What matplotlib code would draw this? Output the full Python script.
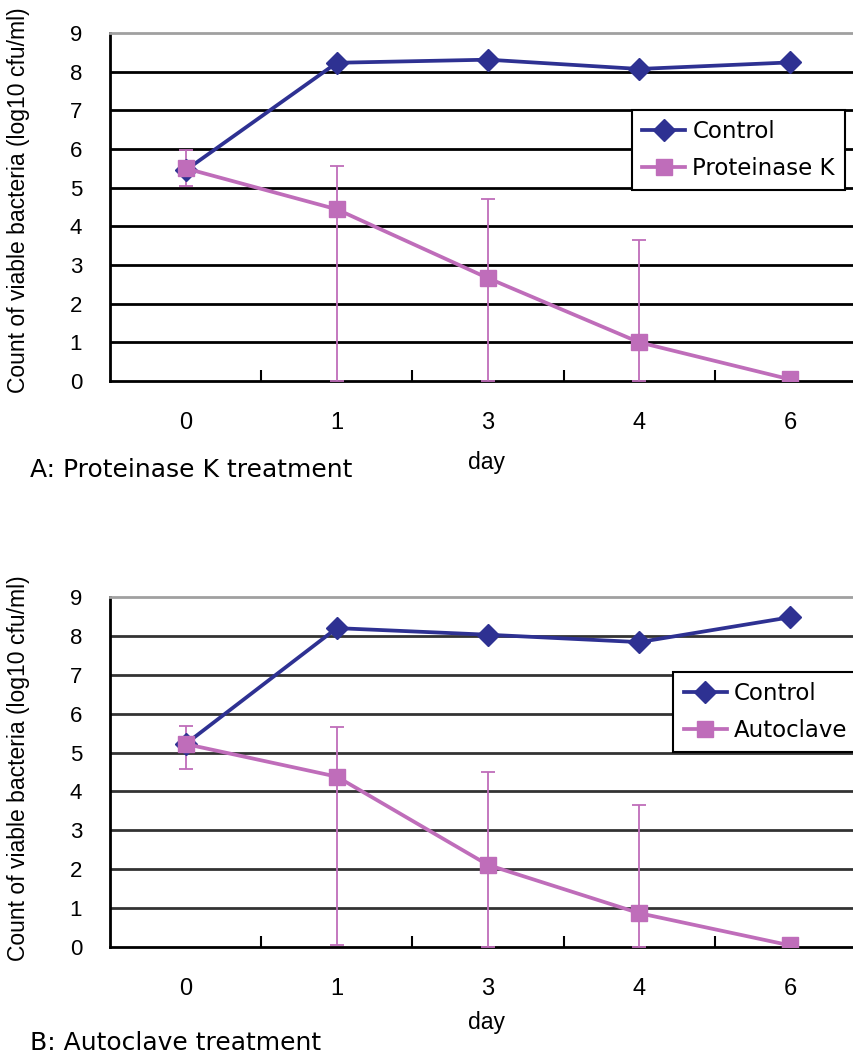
import numpy as np
import matplotlib
matplotlib.use("Agg")
import matplotlib.pyplot as plt

plt.rcParams['font.family'] = ['Liberation Sans', 'DejaVu Sans']

days = ["0", "1", "3", "4", "6"]

# panel A
ctrl_a = [5.45, 8.23, 8.31, 8.07, 8.24]
prot_a = [5.50, 4.44, 2.66, 1.00, 0.04]
prot_a_lo = [5.04, 0.0, 0.0, 0.0, 0.04]
prot_a_hi = [5.97, 5.56, 4.70, 3.64, 0.04]

# panel B
ctrl_b = [5.22, 8.20, 8.03, 7.84, 8.48]
auto_b = [5.22, 4.38, 2.11, 0.87, 0.04]
auto_b_lo = [4.58, 0.04, 0.0, 0.0, 0.04]
auto_b_hi = [5.68, 5.66, 4.50, 3.65, 0.04]

blue = "#2E3192"
pink = "#BF6DBA"
W, H = 854, 1057

fig = plt.figure(figsize=(W / 100, H / 100), dpi=100)


def panel(top, bot, ctrl, trt, lo, hi, trt_name, grid_col, leg_xy, caption, cap_y, day_y, ylab_y):
    ax = fig.add_axes([110 / W, 1 - bot / H, (866 - 110) / W, (bot - top) / H])
    x = np.arange(len(days))
    trt = np.array(trt)
    err = [trt - np.array(lo), np.array(hi) - trt]
    ax.errorbar(x, trt, yerr=err, fmt='none', ecolor=pink, elinewidth=1.3,
                capsize=5, capthick=1.3, zorder=3)
    ax.plot(x, ctrl, color=blue, lw=2.7, marker='D', ms=11.5, label="Control", zorder=4)
    ax.plot(x, trt, color=pink, lw=2.7, marker='s', ms=11, label=trt_name, zorder=4)
    ax.set_xlim(-0.5, 4.5)
    ax.set_ylim(0, 9)
    ax.set_yticks(range(10))
    ax.set_xticks(x)
    ax.set_xticklabels(days)
    ax.set_xticks(x[:-1] + 0.5, minor=True)
    ax.tick_params(axis='x', which='major', length=0, pad=22, labelsize=17)
    ax.tick_params(axis='x', which='minor', direction='in', length=8, width=1.5)
    ax.tick_params(axis='y', length=0, pad=20, labelsize=16)
    for yv in range(1, 9):
        ax.axhline(yv, color=grid_col, lw=2, zorder=1)
    ax.spines['right'].set_visible(False)
    ax.spines['top'].set_color('#a0a0a0')
    ax.spines['top'].set_linewidth(2)
    ax.spines['left'].set_linewidth(2)
    ax.spines['bottom'].set_linewidth(2)
    ax.set_ylabel("Count of viable bacteria (log10 cfu/ml)", fontsize=16.5)
    ax.yaxis.set_label_coords(-0.106, ylab_y)
    leg = ax.legend(loc='upper left', bbox_to_anchor=leg_xy, borderaxespad=0,
                    prop={'family': 'DejaVu Sans', 'size': 16.5},
                    fancybox=False, framealpha=1, edgecolor='black',
                    handlelength=1.9, handletextpad=0.3, labelspacing=0.6,
                    borderpad=0.45)
    leg.get_frame().set_linewidth(1.5)
    leg.set_zorder(5)
    fig.text(487 / W, 1 - day_y / H, "day", ha='center', va='center', fontsize=16.5)
    fig.text(30 / W, 1 - cap_y / H, caption, ha='left', va='center',
             family='DejaVu Sans', fontsize=18)
    return ax


panel(33, 381, ctrl_a, prot_a, prot_a_lo, prot_a_hi, "Proteinase K", "black",
      (0.690, 0.779), "A: Proteinase K treatment", 470, 463, 0.52)
panel(597, 947, ctrl_b, auto_b, auto_b_lo, auto_b_hi, "Autoclave", "#333333",
      (0.745, 0.786), "B: Autoclave treatment", 1043, 1022, 0.51)

fig.savefig("out.png", dpi=100)
